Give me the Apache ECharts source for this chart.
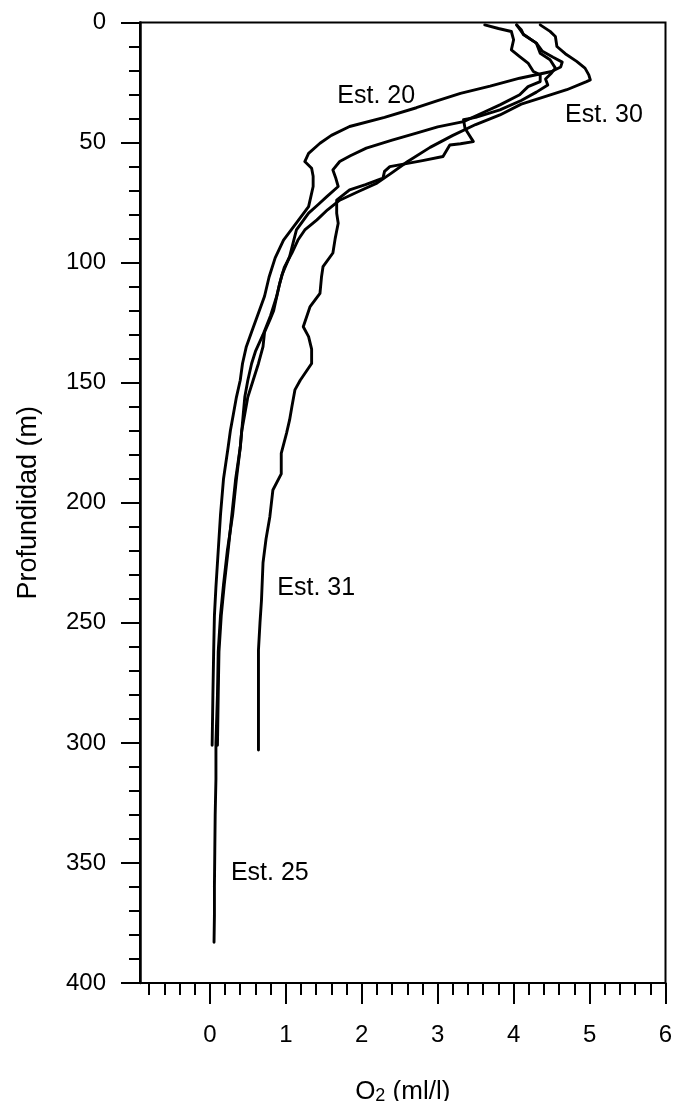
<!DOCTYPE html>
<html>
<head>
<meta charset="utf-8">
<script src="https://cdn.jsdelivr.net/npm/echarts@6/dist/echarts.min.js"></script>
<style>
html,body{margin:0;padding:0;background:#fff;}
#chart{width:677px;height:1101px;}
</style>
</head>
<body>
<div id="chart"></div>
<script>
// ---- data: [O2 (ml/l), depth (m)] ----
const est20 = [[4.04,1],[4.13,5],[4.30,8.6],[4.38,12],[4.52,14.5],[4.64,16.5],[4.62,18.5],[4.50,20.4],[4.08,23.2],[3.69,26.5],[3.30,29.5],[3.00,32.5],[2.72,35.5],[2.30,39.5],[1.84,43.3],[1.60,47],[1.45,50.3],[1.30,54.5],[1.25,57.9],[1.34,60.7],[1.36,64],[1.36,68.3],[1.33,72.5],[1.30,76.7],[1.15,83],[0.97,90.6],[0.86,98],[0.78,106],[0.72,114],[0.64,121],[0.56,128],[0.48,135],[0.43,142],[0.40,149],[0.35,156],[0.31,163],[0.27,170],[0.24,177],[0.18,190],[0.14,205],[0.11,220],[0.08,235],[0.06,247],[0.05,262],[0.04,280],[0.03,301]];
const est25 = [[3.62,1],[3.80,2.5],[3.97,3.75],[4.00,7.2],[3.97,11.4],[4.08,14.2],[4.19,16.9],[4.26,20.4],[4.35,21.8],[4.35,24.6],[4.19,26.7],[4.08,30.1],[3.82,34.3],[3.60,37.5],[3.34,41.3],[3.00,43.5],[2.72,46.1],[2.40,49],[2.06,52.3],[1.85,55.5],[1.71,57.9],[1.62,61.4],[1.66,65],[1.69,68.3],[1.54,72.5],[1.42,76],[1.30,79.4],[1.14,86.4],[1.05,97.5],[0.95,105],[0.92,108.6],[0.88,114.2],[0.84,120],[0.79,123.9],[0.72,129],[0.70,135],[0.64,142],[0.57,149],[0.50,156],[0.46,163],[0.42,170],[0.40,177],[0.35,190],[0.30,205],[0.23,220],[0.18,234],[0.14,247],[0.11,262],[0.10,280],[0.08,300],[0.08,315],[0.07,330],[0.065,345],[0.06,360],[0.06,372],[0.055,383]];
const est30 = [[4.35,1],[4.48,3.7],[4.55,5.8],[4.57,10],[4.68,13],[4.83,16.2],[4.94,19],[4.99,21.8],[5.01,23.9],[4.96,24.6],[4.70,28],[4.35,31.5],[4.10,34],[3.82,38.5],[3.50,42.5],[3.20,47],[2.90,52],[2.60,58],[2.40,62.5],[2.20,66.9],[1.95,70.5],[1.71,74],[1.55,78],[1.41,82.2],[1.25,86.4],[1.16,90.6],[1.08,96],[0.98,102],[0.92,108.6],[0.88,114],[0.80,122],[0.70,130],[0.60,137],[0.55,142],[0.50,149],[0.46,156],[0.44,163],[0.40,177],[0.34,190],[0.29,205],[0.24,220],[0.19,234],[0.15,247],[0.12,262],[0.11,280],[0.10,301]];
const est31 = [[4.04,1],[4.10,3],[4.13,5],[4.30,8.6],[4.35,12.8],[4.48,15.5],[4.55,19],[4.50,21],[4.42,23.5],[4.45,26],[4.30,29],[4.10,32.5],[3.82,36.4],[3.50,39.5],[3.34,40.5],[3.36,44],[3.40,46.1],[3.47,49.6],[3.30,50.5],[3.16,51],[3.07,55.8],[2.80,57.5],[2.37,60],[2.30,62],[2.28,64.8],[2.05,67.5],[1.84,69.7],[1.67,74],[1.67,79.4],[1.69,83.6],[1.65,90],[1.62,96],[1.49,101.7],[1.47,106],[1.45,112.8],[1.32,118.3],[1.23,126.7],[1.30,130.8],[1.34,136],[1.34,142],[1.19,149],[1.12,153],[1.08,160],[1.05,165.5],[1.01,171],[0.94,179.4],[0.94,188],[0.83,194.7],[0.79,205.8],[0.74,215],[0.70,225],[0.68,240.5],[0.66,250],[0.64,261.4],[0.64,282],[0.64,303]];

// station names and where their labels sit (O2, depth)
const stationNames = ['Est. 20','Est. 25','Est. 30','Est. 31'];
const labelAnchors = [[2.19,30.7],[0.79,354.4],[5.19,38.6],[1.40,235.7]];

// axis ticks
const xMajorTicks = [0,1,2,3,4,5,6];
const xMinorTicks = [-0.8,-0.6,-0.4,-0.2,0.2,0.4,0.6,0.8,1.2,1.4,1.6,1.8,2.2,2.4,2.6,2.8,3.2,3.4,3.6,3.8,4.2,4.4,4.6,4.8,5.2,5.4,5.6,5.8];
const xMin = -0.92, xMax = 6;
const yMin = 0, yMax = 400, yStep = 50;

const FONT = 'Liberation Sans, Arial, sans-serif';
const chart = echarts.init(document.getElementById('chart'), null, {renderer:'canvas'});

const stations = [est20, est25, est30, est31];
const lineSeries = stations.map((d, i) => ({
  name: stationNames[i],
  type: 'line',
  xAxisIndex: 0,
  yAxisIndex: 0,
  data: d,
  showSymbol: false,
  symbol: 'none',
  smooth: false,
  lineStyle: {color:'#000', width:2.9, join:'round', cap:'round'},
  emphasis: {disabled:true},
  animation: false,
  z: 3
}));

const option = {
  backgroundColor: '#fff',
  animation: false,
  grid: {left:140, right:11.5, top:22.5, bottom:118, show:true, borderColor:'#000', borderWidth:2, backgroundColor:'transparent', outerBoundsMode:'none'},
  xAxis: [{
    type:'value', position:'bottom', min:xMin, max:xMax,
    splitLine:{show:false},
    axisLine:{show:true, onZero:false, lineStyle:{color:'#000', width:2}},
    axisTick:{show:true, inside:false, length:21, customValues:xMajorTicks, lineStyle:{color:'#000', width:2}},
    axisLabel:{show:true, customValues:xMajorTicks, margin:40, color:'#000', fontSize:24, fontFamily:FONT},
    name:'{o|O}{s|2}{o| (ml/l)}',
    nameLocation:'middle', nameGap:96,
    nameTextStyle:{color:'#000', fontFamily:FONT, rich:{
      o:{fontSize:26, fontFamily:FONT, color:'#000', verticalAlign:'top', lineHeight:26},
      s:{fontSize:18, fontFamily:FONT, color:'#000', verticalAlign:'bottom', lineHeight:18, padding:[11,0,0,0]}
    }}
  },{
    type:'value', position:'bottom', min:xMin, max:xMax,
    splitLine:{show:false},
    axisLine:{show:false, onZero:false},
    axisTick:{show:true, inside:false, length:12, customValues:xMinorTicks, lineStyle:{color:'#000', width:2}},
    axisLabel:{show:false}
  }],
  yAxis: [{
    type:'value', inverse:true, min:yMin, max:yMax, interval:yStep,
    splitLine:{show:false},
    axisLine:{show:true, onZero:false, lineStyle:{color:'#000', width:2.5}},
    axisTick:{show:true, inside:false, length:19, lineStyle:{color:'#000', width:2}},
    minorTick:{show:true, splitNumber:5, length:11, lineStyle:{color:'#000', width:2}},
    axisLabel:{show:true, margin:34, color:'#000', fontSize:24, fontFamily:FONT},
    name:'Profundidad (m)', nameLocation:'middle', nameGap:98, nameRotate:90,
    nameTextStyle:{color:'#000', fontSize:27, fontFamily:FONT}
  }],
  series: lineSeries.concat([{
    type:'scatter', xAxisIndex:0, yAxisIndex:0,
    symbolSize:0, silent:true, z:5,
    itemStyle:{opacity:1},
    data: labelAnchors.map((p, i) => ({value:p, name:stationNames[i]})),
    label:{show:true, position:'inside', formatter:'{b}', color:'#000', opacity:1, textBorderWidth:0, fontSize:25, fontFamily:FONT, align:'center', verticalAlign:'middle'}
  }])
};
chart.setOption(option);
</script>
</body>
</html>
